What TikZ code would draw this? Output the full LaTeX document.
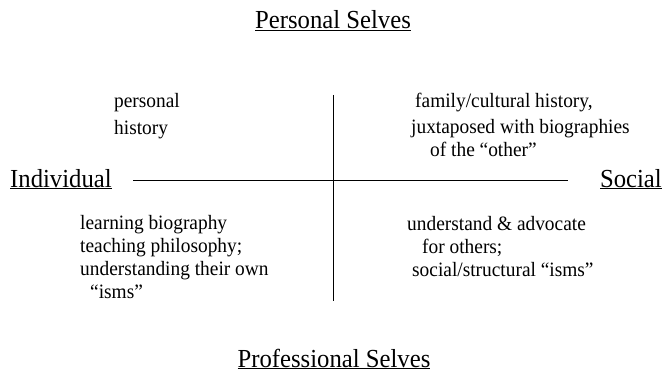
\documentclass[tikz,border=0pt]{standalone}
\usepackage{fontspec}
\setmainfont{Liberation Serif}[FakeStretch=0.95]

\tikzset{
  head/.style={font=\fontsize{26}{30}\selectfont, inner sep=0pt},
  txt/.style={font=\fontsize{20.4}{23}\selectfont, align=left, inner sep=0pt, anchor=base west}
}

\begin{document}
\begin{tikzpicture}[x=1pt,y=-1pt]
   \useasboundingbox (0,0) rectangle (663,377);

   % the two axes' names
   \node[head,anchor=base]      (pers) at (333,29)  {\underline{Personal Selves}};
   \node[head,anchor=base]      (prof) at (334,367) {\underline{Professional Selves}};
   \node[head,anchor=base west] (ind)  at (10,187)  {\underline{Individual}};
   \node[head,anchor=base east] (soc)  at (662,187) {\underline{Social}};

   % quadrants (placed by the baseline of their last line)
   \node[txt] (q1) at (114,134) {personal\\[3pt] history};
   \node[txt] (q2) at (411,156) {\hspace*{4pt}family/cultural history,\\[3pt]
      juxtaposed with biographies\\ \hspace*{19pt}of the ``other''};
   \node[txt] (q3) at (80,298)  {learning biography\\ teaching philosophy;\\
      understanding their own\\ \hspace*{10pt}``isms''};
   \node[txt] (q4) at (407,276) {understand \& advocate\\ \hspace*{15pt}for others;\\
      \hspace*{5pt}social/structural ``isms''};

   \coordinate (n) at (333,95);
   \coordinate (s) at (333,301);
   \coordinate (w) at (133,180);
   \coordinate (e) at (568,180);

   \path[line width=1pt] (n) edge (s);
   \path[line width=1pt] (w) edge (e);

\end{tikzpicture}
\end{document}
